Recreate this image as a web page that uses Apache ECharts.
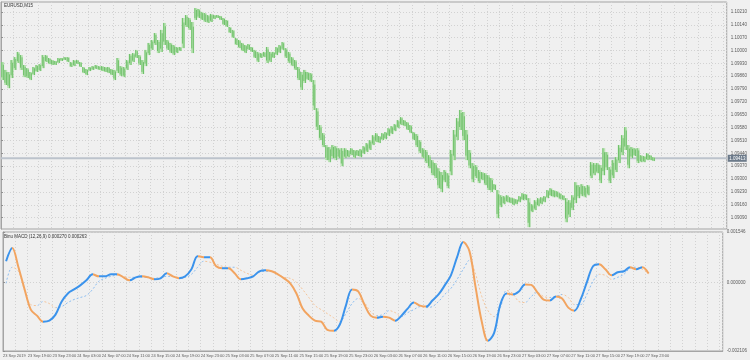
<!DOCTYPE html>
<html><head><meta charset="utf-8">
<script src="https://cdn.jsdelivr.net/npm/echarts@6/dist/echarts.min.js"></script>
<style>html,body{margin:0;padding:0;background:#f0f0f0;}#c{width:750px;height:360px;}</style>
</head><body><div id="c"></div>
<script>
// ---------------- data ----------------
const symbolTitle = 'EURUSD,M15';
const indicatorTitle = 'Binu MACD (12,26,9) 0.000270 0.000263';
const lastPrice = 1.09413;

// one label every 16 M15 bars (4 hours)
const timeLabels = ["23 Sep 2019","23 Sep 19:00","23 Sep 23:00","24 Sep 03:00","24 Sep 07:00","24 Sep 11:00","24 Sep 15:00","24 Sep 19:00","24 Sep 23:00","25 Sep 03:00","25 Sep 07:00","25 Sep 11:00","25 Sep 15:00","25 Sep 19:00","25 Sep 23:00","26 Sep 03:00","26 Sep 07:00","26 Sep 11:00","26 Sep 15:00","26 Sep 19:00","26 Sep 23:00","27 Sep 03:00","27 Sep 07:00","27 Sep 11:00","27 Sep 15:00","27 Sep 19:00","27 Sep 23:00"];

// price range per 30-minute slot (two M15 bars each)
const barHighs = [
1.09937,1.09894,1.09883,1.09948,1.09964,1.09992,1.09975,1.09921,1.09904,1.09883,
1.09910,1.09921,1.09926,1.09975,1.09975,1.09959,1.09948,1.09943,1.09959,1.09959,
1.09964,1.09964,1.09937,1.09948,1.09948,1.09937,1.09910,1.09899,1.09910,1.09915,
1.09921,1.09915,1.09915,1.09910,1.09910,1.09899,1.09894,1.09959,1.09915,1.09910,
1.09948,1.09981,1.09986,1.10003,1.09975,1.09948,1.10003,1.10041,1.10057,1.10095,
1.10057,1.10112,1.10150,1.10057,1.10041,1.10030,1.10019,1.10019,1.10177,1.10193,
1.10177,1.10155,1.10231,1.10226,1.10210,1.10204,1.10193,1.10199,1.10193,1.10193,
1.10188,1.10177,1.10166,1.10128,1.10112,1.10068,1.10057,1.10041,1.10030,1.10035,
1.10019,1.10003,1.09992,1.09986,1.09992,1.10019,1.09992,1.09992,1.10019,1.10030,
1.10046,1.10013,1.09992,1.09964,1.09948,1.09910,1.09883,1.09894,1.09883,1.09877,
1.09839,1.09686,1.09594,1.09550,1.09485,1.09474,1.09485,1.09479,1.09468,1.09468,
1.09468,1.09458,1.09468,1.09458,1.09458,1.09463,1.09479,1.09496,1.09512,1.09539,
1.09550,1.09534,1.09550,1.09556,1.09577,1.09588,1.09599,1.09621,1.09637,1.09621,
1.09610,1.09594,1.09556,1.09545,1.09512,1.09468,1.09458,1.09430,1.09403,1.09387,
1.09359,1.09338,1.09349,1.09332,1.09458,1.09567,1.09632,1.09676,1.09665,1.09567,
1.09458,1.09387,1.09376,1.09349,1.09338,1.09332,1.09321,1.09305,1.09272,1.09240,
1.09212,1.09207,1.09212,1.09201,1.09196,1.09190,1.09207,1.09223,1.09218,1.09196,
1.09163,1.09185,1.09196,1.09201,1.09207,1.09240,1.09250,1.09240,1.09234,1.09223,
1.09212,1.09196,1.09185,1.09212,1.09283,1.09267,1.09272,1.09261,1.09267,1.09392,
1.09387,1.09387,1.09376,1.09468,1.09447,1.09365,1.09403,1.09419,1.09485,1.09539,
1.09583,1.09485,1.09474,1.09468,1.09468,1.09430,1.09425,1.09441,1.09430,1.09419
];
const barLows = [
1.09839,1.09812,1.09795,1.09850,1.09894,1.09932,1.09894,1.09855,1.09850,1.09839,
1.09866,1.09883,1.09888,1.09904,1.09937,1.09926,1.09921,1.09921,1.09932,1.09943,
1.09948,1.09937,1.09910,1.09915,1.09926,1.09910,1.09877,1.09866,1.09888,1.09894,
1.09899,1.09894,1.09888,1.09883,1.09877,1.09866,1.09839,1.09877,1.09861,1.09855,
1.09894,1.09921,1.09937,1.09959,1.09921,1.09872,1.09915,1.09975,1.10003,1.10030,
1.09986,1.09992,1.10030,1.10003,1.09986,1.09975,1.09986,1.09997,1.10013,1.10128,
1.10112,1.09986,1.10166,1.10177,1.10166,1.10155,1.10150,1.10155,1.10171,1.10177,
1.10166,1.10139,1.10128,1.10095,1.10068,1.10030,1.10013,1.09997,1.09986,1.10003,
1.09992,1.09959,1.09937,1.09959,1.09964,1.09932,1.09937,1.09959,1.09975,1.09986,
1.10003,1.09959,1.09932,1.09915,1.09894,1.09839,1.09785,1.09823,1.09839,1.09828,
1.09676,1.09567,1.09512,1.09474,1.09403,1.09392,1.09414,1.09403,1.09414,1.09370,
1.09414,1.09419,1.09430,1.09414,1.09425,1.09419,1.09436,1.09447,1.09458,1.09485,
1.09501,1.09496,1.09512,1.09517,1.09534,1.09545,1.09561,1.09577,1.09594,1.09588,
1.09567,1.09550,1.09512,1.09474,1.09441,1.09414,1.09387,1.09359,1.09321,1.09305,
1.09250,1.09229,1.09283,1.09250,1.09321,1.09403,1.09512,1.09567,1.09512,1.09403,
1.09359,1.09283,1.09305,1.09278,1.09294,1.09267,1.09240,1.09229,1.09240,1.09087,
1.09147,1.09163,1.09174,1.09169,1.09158,1.09163,1.09174,1.09185,1.09185,1.09038,
1.09120,1.09131,1.09152,1.09163,1.09174,1.09196,1.09207,1.09201,1.09201,1.09190,
1.09185,1.09065,1.09093,1.09131,1.09169,1.09196,1.09207,1.09201,1.09212,1.09305,
1.09321,1.09332,1.09278,1.09321,1.09349,1.09278,1.09305,1.09338,1.09387,1.09430,
1.09458,1.09359,1.09414,1.09425,1.09387,1.09392,1.09392,1.09403,1.09403,1.09398
];

// MACD main and signal, one reading per hour
const macdValues = [
0.000650,0.001052,0.000464,-0.000217,-0.000836,-0.001021,-0.001207,-0.001176,-0.000990,-0.000588,
-0.000340,-0.000217,-0.000093,0.000062,0.000248,0.000186,0.000186,0.000248,0.000248,0.000155,
0.000062,0.000155,0.000186,0.000155,0.000093,0.000124,0.000279,0.000186,0.000124,0.000186,
0.000402,0.000805,0.000774,0.000774,0.000495,0.000433,0.000433,0.000279,0.000093,0.000124,
0.000186,0.000340,0.000371,0.000340,0.000248,0.000124,-0.000031,-0.000340,-0.000805,-0.001021,
-0.001176,-0.001207,-0.001455,-0.001486,-0.001300,-0.000712,-0.000217,-0.000279,-0.000681,-0.001021,
-0.001083,-0.001052,-0.001083,-0.001176,-0.001021,-0.000805,-0.000619,-0.000712,-0.000743,-0.000557,
-0.000371,-0.000093,0.000217,0.000774,0.001238,0.000959,-0.000155,-0.001207,-0.001795,-0.001548,
-0.000681,-0.000340,-0.000371,-0.000279,-0.000062,-0.000077,-0.000310,-0.000526,-0.000557,-0.000433,
-0.000495,-0.000774,-0.000867,-0.000526,0.000000,0.000495,0.000557,0.000402,0.000217,0.000310,
0.000340,0.000464,0.000402,0.000464,0.000270
];
const signalValues = [
-0.000031,0.000464,0.000340,-0.000248,-0.000681,-0.000712,-0.000588,-0.000650,-0.000774,-0.000743,
-0.000619,-0.000526,-0.000464,-0.000402,-0.000217,0.000031,0.000124,0.000186,0.000217,0.000186,
0.000155,0.000155,0.000155,0.000155,0.000124,0.000155,0.000186,0.000186,0.000155,0.000155,
0.000248,0.000464,0.000650,0.000619,0.000557,0.000495,0.000464,0.000464,0.000371,0.000279,
0.000217,0.000310,0.000340,0.000340,0.000248,0.000155,0.000124,0.000000,-0.000217,-0.000464,
-0.000712,-0.000836,-0.000959,-0.001083,-0.001207,-0.000959,-0.000650,-0.000495,-0.000619,-0.000898,
-0.001021,-0.000990,-0.000867,-0.000929,-0.001052,-0.000929,-0.000836,-0.000743,-0.000774,-0.000743,
-0.000588,-0.000371,-0.000186,0.000093,0.000402,0.000681,0.000248,-0.000433,-0.000867,-0.001052,
-0.000774,-0.000248,-0.000340,-0.000588,-0.000619,-0.000433,-0.000310,-0.000433,-0.000464,-0.000433,
-0.000371,-0.000464,-0.000681,-0.000681,-0.000371,0.000031,0.000248,0.000217,0.000093,0.000155,
0.000248,0.000433,0.000464,0.000402,0.000263
];

const priceTicks = [1.09090,1.09160,1.09230,1.09300,1.09370,1.09440,1.09510,1.09580,1.09650,1.09720,1.09790,1.09860,1.09930,1.10000,1.10070,1.10140,1.10210];
const macdTicks = [-0.002106, 0, 0.001546];

// ---------------- build ----------------
const M15_PER_SLOT = 2, M15_PER_HOUR = 4, M15_PER_LABEL = 16;
const priceData = barHighs.map((h, i) => [i * M15_PER_SLOT + 1, h, barLows[i]]);
const macdData = macdValues.map((v, h) => [h * M15_PER_HOUR + 2, v]);
const signalData = signalValues.map((v, h) => [h * M15_PER_HOUR + 2, v]);

const UP = '#3b93ec', DOWN = '#f2a460';
const UP_S = '#8cbdf0', DOWN_S = '#f4c49a';
function slopePieces(vals, up, down) {
  const pieces = [];
  for (let h = 1; h < vals.length; h++) {
    pieces.push({ gte: (h - 1) * M15_PER_HOUR + 2, lt: h * M15_PER_HOUR + 2, color: vals[h] >= vals[h - 1] ? up : down });
  }
  pieces[0].gte = -100; pieces[pieces.length - 1].lt = 10000;
  return pieces;
}

const FONT = 'Liberation Sans';
const TXT = '#5a5a5a';
const GRID_LINE = { show: true, lineStyle: { color: '#d2d2d2', type: [1, 2], width: 1 } };

const chart = echarts.init(document.getElementById('c'), null, { renderer: 'canvas' });
chart.setOption({
  animation: false,
  backgroundColor: '#f0f0f0',
  textStyle: { fontFamily: FONT },
  title: [
    { text: symbolTitle, left: 4, top: 3, padding: 0, textStyle: { fontSize: 4.5, fontWeight: 'normal', color: '#333', fontFamily: FONT } },
    { text: indicatorTitle, left: 4, top: 234, padding: 0, textStyle: { fontSize: 4.5, fontWeight: 'normal', color: '#333', fontFamily: FONT } }
  ],
  grid: [
    { left: 1, right: 21, top: 2, height: 227, show: true, borderColor: '#a4a4a4', borderWidth: 1, backgroundColor: '#f0f0f0' },
    { left: 1, right: 21, top: 232, height: 119, show: true, borderColor: '#a4a4a4', borderWidth: 1, backgroundColor: '#f0f0f0' }
  ],
  xAxis: [
    { type: 'value', gridIndex: 0, min: 0, max: 466, interval: 8, axisLabel: { show: false }, axisTick: { show: false }, axisLine: { show: false }, splitLine: GRID_LINE },
    { type: 'value', gridIndex: 1, min: 0, max: 466, interval: 8, axisTick: { show: false }, axisLine: { show: true, onZero: false, lineStyle: { color: '#a4a4a4' } }, splitLine: GRID_LINE,
      axisLabel: { show: true, showMaxLabel: false, fontSize: 4, color: TXT, align: 'left', margin: 3, fontFamily: FONT,
        formatter: v => (v % M15_PER_LABEL === 0 && timeLabels[v / M15_PER_LABEL]) ? timeLabels[v / M15_PER_LABEL] : '' } }
  ],
  yAxis: [
    { type: 'value', gridIndex: 0, position: 'right', min: 1.09028, max: 1.10264, scale: true,
      axisLine: { show: true, lineStyle: { color: '#a4a4a4' } },
      axisTick: { show: true, length: 2, customValues: priceTicks, lineStyle: { color: '#909090' } },
      axisLabel: { show: true, customValues: priceTicks, fontSize: 4.5, color: TXT, margin: 4, fontFamily: FONT, formatter: v => v.toFixed(5) },
      splitLine: GRID_LINE },
    { type: 'value', gridIndex: 1, position: 'right', min: macdTicks[0], max: macdTicks[2],
      axisLine: { show: true, lineStyle: { color: '#a4a4a4' } },
      axisTick: { show: true, length: 2, customValues: macdTicks, lineStyle: { color: '#909090' } },
      axisLabel: { show: true, customValues: macdTicks, fontSize: 4.5, color: TXT, margin: 4, fontFamily: FONT, formatter: v => v.toFixed(6) },
      splitLine: GRID_LINE }
  ],
  visualMap: [
    { type: 'piecewise', show: false, seriesIndex: 1, dimension: 0, pieces: slopePieces(macdValues, UP, DOWN) },
    { type: 'piecewise', show: false, seriesIndex: 2, dimension: 0, pieces: slopePieces(signalValues, UP_S, DOWN_S) }
  ],
  series: [
    { type: 'custom', xAxisIndex: 0, yAxisIndex: 0, data: priceData, encode: { x: 0, y: [1, 2] }, clip: true, z: 3,
      renderItem: function (params, api) {
        const x = api.value(0), hi = api.value(1), lo = api.value(2);
        const pH = api.coord([x, hi]), pL = api.coord([x, lo]);
        const w = api.size([M15_PER_SLOT, 0])[0];
        const h = Math.max(1.5, pL[1] - pH[1]);
        const q = w / 4;
        return { type: 'group', children: [
          { type: 'rect', shape: { x: pH[0] - w / 2, y: pH[1], width: w, height: h }, style: { fill: '#b9e2b3' } },
          { type: 'line', shape: { x1: pH[0] - q, y1: pH[1], x2: pH[0] - q, y2: pH[1] + h * 0.85 }, style: { stroke: '#6fc16a', lineWidth: 1 } },
          { type: 'line', shape: { x1: pH[0] + q, y1: pH[1] + h * 0.15, x2: pH[0] + q, y2: pH[1] + h }, style: { stroke: '#6fc16a', lineWidth: 1 } }
        ] };
      } },
    { type: 'line', xAxisIndex: 1, yAxisIndex: 1, data: macdData, showSymbol: false, smooth: 0.35, lineStyle: { width: 2 }, z: 3 },
    { type: 'line', xAxisIndex: 1, yAxisIndex: 1, data: signalData, showSymbol: false, smooth: 0.35, lineStyle: { width: 1, type: [2, 2] }, z: 2 },
    // bid line with its price box
    { type: 'custom', xAxisIndex: 0, yAxisIndex: 0, data: [[0, lastPrice]], encode: { x: 0, y: 1 }, clip: false, z: 2, silent: true,
      renderItem: function (params, api) {
        const cs = params.coordSys;
        const y = api.coord([0, api.value(1)])[1];
        const txt = api.value(1).toFixed(5);
        return { type: 'group', children: [
          { type: 'line', shape: { x1: cs.x, y1: y, x2: cs.x + cs.width, y2: y }, style: { stroke: '#bcc3cc', lineWidth: 2 } },
          { type: 'rect', shape: { x: cs.x + cs.width + 1, y: y - 3.5, width: 19, height: 7 }, style: { fill: '#6c7a8a' } },
          { type: 'text', x: cs.x + cs.width + 2.5, y: y, style: { text: txt, fill: '#ffffff', font: '4.5px "Liberation Sans"', verticalAlign: 'middle', align: 'left' } }
        ] };
      } }
  ]
});
</script></body></html>
